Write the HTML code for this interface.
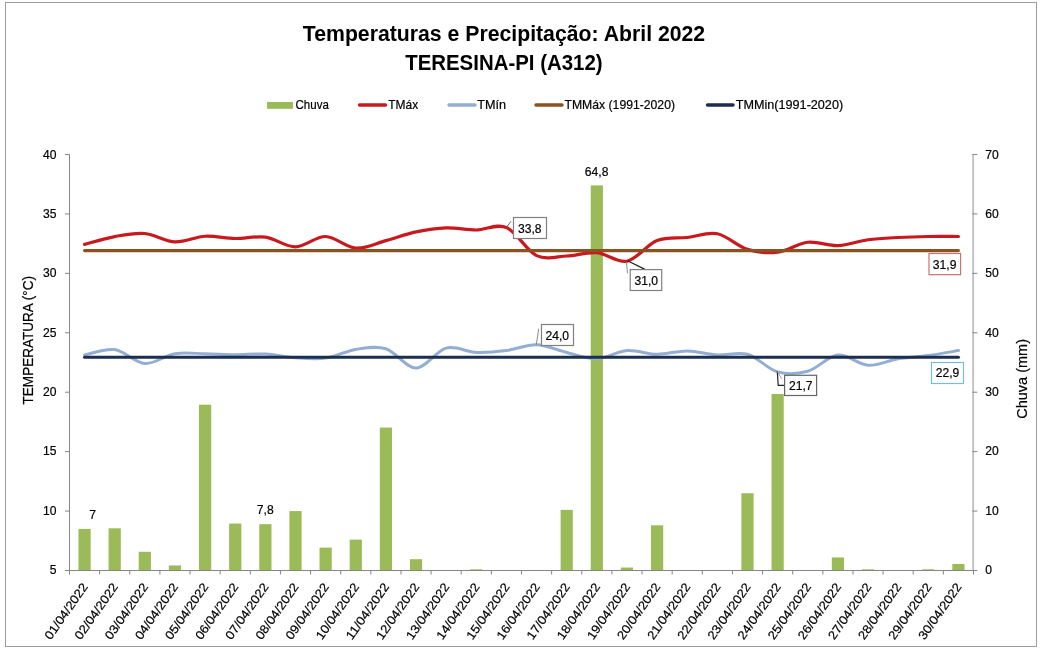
<!DOCTYPE html>
<html lang="pt-BR"><head><meta charset="utf-8"><title>Temperaturas e Precipitação: Abril 2022 - TERESINA-PI (A312)</title>
<style>html,body{margin:0;padding:0;background:#fff}body{width:1041px;height:650px;overflow:hidden}svg{display:block}svg text{font-family:"Liberation Sans",sans-serif}</style></head>
<body>
<svg width="1041" height="650" viewBox="0 0 1041 650" fill="#000">
<rect x="0" y="0" width="1041" height="650" fill="#fff"/>
<rect x="5.5" y="2.5" width="1031" height="644" fill="#fff" stroke="#9c9c9c" stroke-width="1"/>
<text x="302.83" y="41.30" font-size="22.45" font-weight="bold" textLength="402.34" lengthAdjust="spacingAndGlyphs">Temperaturas e Precipitação: Abril 2022</text>
<text x="405.17" y="70.20" font-size="22.45" font-weight="bold" textLength="197.45" lengthAdjust="spacingAndGlyphs">TERESINA-PI (A312)</text>
<rect x="267" y="102" width="26" height="6.8" fill="#9BBB59"/>
<text x="295.50" y="109.00" font-size="12.26" stroke="#000" stroke-width="0.2" textLength="33.33" lengthAdjust="spacingAndGlyphs">Chuva</text>
<line x1="359.5" y1="105" x2="385.5" y2="105" stroke="#C8191F" stroke-width="3.4" stroke-linecap="round"/>
<text x="388.30" y="109.00" font-size="12.26" stroke="#000" stroke-width="0.2" textLength="29.92" lengthAdjust="spacingAndGlyphs">TMáx</text>
<line x1="449" y1="105" x2="475" y2="105" stroke="#93AED2" stroke-width="3.4" stroke-linecap="round"/>
<text x="477.20" y="109.00" font-size="12.26" stroke="#000" stroke-width="0.2" textLength="28.75" lengthAdjust="spacingAndGlyphs">TMín</text>
<line x1="536" y1="105" x2="562" y2="105" stroke="#8A5220" stroke-width="3.4" stroke-linecap="round"/>
<text x="564.50" y="109.00" font-size="12.26" stroke="#000" stroke-width="0.2" textLength="110.50" lengthAdjust="spacingAndGlyphs">TMMáx (1991-2020)</text>
<line x1="707.5" y1="105" x2="733" y2="105" stroke="#1B2E50" stroke-width="3.4" stroke-linecap="round"/>
<text x="735.80" y="109.00" font-size="12.26" stroke="#000" stroke-width="0.2" textLength="107.32" lengthAdjust="spacingAndGlyphs">TMMin(1991-2020)</text>
<g fill="#9BBB59">
<rect x="78.47" y="528.90" width="12.2" height="41.60"/>
<rect x="108.60" y="528.31" width="12.2" height="42.19"/>
<rect x="138.73" y="551.78" width="12.2" height="18.72"/>
<rect x="168.87" y="565.45" width="12.2" height="5.05"/>
<rect x="199.00" y="404.69" width="12.2" height="165.81"/>
<rect x="229.13" y="523.55" width="12.2" height="46.95"/>
<rect x="259.27" y="524.15" width="12.2" height="46.35"/>
<rect x="289.40" y="511.07" width="12.2" height="59.43"/>
<rect x="319.53" y="547.62" width="12.2" height="22.88"/>
<rect x="349.67" y="539.60" width="12.2" height="30.90"/>
<rect x="379.80" y="427.57" width="12.2" height="142.93"/>
<rect x="409.93" y="559.21" width="12.2" height="11.29"/>
<rect x="470.20" y="569.31" width="12.2" height="1.19"/>
<rect x="560.60" y="509.88" width="12.2" height="60.62"/>
<rect x="590.73" y="185.40" width="12.2" height="385.10"/>
<rect x="620.87" y="567.53" width="12.2" height="2.97"/>
<rect x="651.00" y="525.33" width="12.2" height="45.17"/>
<rect x="741.40" y="493.24" width="12.2" height="77.26"/>
<rect x="771.53" y="394.00" width="12.2" height="176.50"/>
<rect x="831.80" y="557.43" width="12.2" height="13.07"/>
<rect x="861.93" y="569.31" width="12.2" height="1.19"/>
<rect x="922.20" y="569.31" width="12.2" height="1.19"/>
<rect x="952.33" y="563.96" width="12.2" height="6.54"/>
</g>
<g stroke="#868686" stroke-width="1" fill="none">
<line x1="69.5" y1="154.5" x2="69.5" y2="570.5"/>
<line x1="65.0" y1="154.50" x2="69.5" y2="154.50"/>
<line x1="65.0" y1="213.93" x2="69.5" y2="213.93"/>
<line x1="65.0" y1="273.36" x2="69.5" y2="273.36"/>
<line x1="65.0" y1="332.79" x2="69.5" y2="332.79"/>
<line x1="65.0" y1="392.21" x2="69.5" y2="392.21"/>
<line x1="65.0" y1="451.64" x2="69.5" y2="451.64"/>
<line x1="65.0" y1="511.07" x2="69.5" y2="511.07"/>
<line x1="65.0" y1="570.50" x2="69.5" y2="570.50"/>
<line x1="69.5" y1="570.5" x2="973.5" y2="570.5"/>
<line x1="69.50" y1="570.5" x2="69.50" y2="574.5"/>
<line x1="99.63" y1="570.5" x2="99.63" y2="574.5"/>
<line x1="129.77" y1="570.5" x2="129.77" y2="574.5"/>
<line x1="159.90" y1="570.5" x2="159.90" y2="574.5"/>
<line x1="190.03" y1="570.5" x2="190.03" y2="574.5"/>
<line x1="220.17" y1="570.5" x2="220.17" y2="574.5"/>
<line x1="250.30" y1="570.5" x2="250.30" y2="574.5"/>
<line x1="280.43" y1="570.5" x2="280.43" y2="574.5"/>
<line x1="310.57" y1="570.5" x2="310.57" y2="574.5"/>
<line x1="340.70" y1="570.5" x2="340.70" y2="574.5"/>
<line x1="370.83" y1="570.5" x2="370.83" y2="574.5"/>
<line x1="400.97" y1="570.5" x2="400.97" y2="574.5"/>
<line x1="431.10" y1="570.5" x2="431.10" y2="574.5"/>
<line x1="461.23" y1="570.5" x2="461.23" y2="574.5"/>
<line x1="491.37" y1="570.5" x2="491.37" y2="574.5"/>
<line x1="521.50" y1="570.5" x2="521.50" y2="574.5"/>
<line x1="551.63" y1="570.5" x2="551.63" y2="574.5"/>
<line x1="581.77" y1="570.5" x2="581.77" y2="574.5"/>
<line x1="611.90" y1="570.5" x2="611.90" y2="574.5"/>
<line x1="642.03" y1="570.5" x2="642.03" y2="574.5"/>
<line x1="672.17" y1="570.5" x2="672.17" y2="574.5"/>
<line x1="702.30" y1="570.5" x2="702.30" y2="574.5"/>
<line x1="732.43" y1="570.5" x2="732.43" y2="574.5"/>
<line x1="762.57" y1="570.5" x2="762.57" y2="574.5"/>
<line x1="792.70" y1="570.5" x2="792.70" y2="574.5"/>
<line x1="822.83" y1="570.5" x2="822.83" y2="574.5"/>
<line x1="852.97" y1="570.5" x2="852.97" y2="574.5"/>
<line x1="883.10" y1="570.5" x2="883.10" y2="574.5"/>
<line x1="913.23" y1="570.5" x2="913.23" y2="574.5"/>
<line x1="943.37" y1="570.5" x2="943.37" y2="574.5"/>
<line x1="973.50" y1="570.5" x2="973.50" y2="574.5"/>
</g>
<line x1="973.15" y1="154.2" x2="973.15" y2="571.0" stroke="#c2c2c2" stroke-width="1.9"/>
<g stroke="#868686" stroke-width="1" fill="none">
<line x1="972.3" y1="154.50" x2="977.4" y2="154.50"/>
<line x1="972.3" y1="213.93" x2="977.4" y2="213.93"/>
<line x1="972.3" y1="273.36" x2="977.4" y2="273.36"/>
<line x1="972.3" y1="332.79" x2="977.4" y2="332.79"/>
<line x1="972.3" y1="392.21" x2="977.4" y2="392.21"/>
<line x1="972.3" y1="451.64" x2="977.4" y2="451.64"/>
<line x1="972.3" y1="511.07" x2="977.4" y2="511.07"/>
<line x1="972.3" y1="570.50" x2="977.4" y2="570.50"/>
</g>
<text x="43.10" y="158.80" font-size="12.26" stroke="#000" stroke-width="0.2" textLength="13.50" lengthAdjust="spacingAndGlyphs">40</text>
<text x="985.30" y="158.80" font-size="12.26" stroke="#000" stroke-width="0.2" textLength="13.50" lengthAdjust="spacingAndGlyphs">70</text>
<text x="43.10" y="218.13" font-size="12.26" stroke="#000" stroke-width="0.2" textLength="13.50" lengthAdjust="spacingAndGlyphs">35</text>
<text x="985.30" y="218.13" font-size="12.26" stroke="#000" stroke-width="0.2" textLength="13.50" lengthAdjust="spacingAndGlyphs">60</text>
<text x="43.10" y="277.46" font-size="12.26" stroke="#000" stroke-width="0.2" textLength="13.50" lengthAdjust="spacingAndGlyphs">30</text>
<text x="985.30" y="277.46" font-size="12.26" stroke="#000" stroke-width="0.2" textLength="13.50" lengthAdjust="spacingAndGlyphs">50</text>
<text x="43.10" y="336.79" font-size="12.26" stroke="#000" stroke-width="0.2" textLength="13.50" lengthAdjust="spacingAndGlyphs">25</text>
<text x="985.30" y="336.79" font-size="12.26" stroke="#000" stroke-width="0.2" textLength="13.50" lengthAdjust="spacingAndGlyphs">40</text>
<text x="43.10" y="396.11" font-size="12.26" stroke="#000" stroke-width="0.2" textLength="13.50" lengthAdjust="spacingAndGlyphs">20</text>
<text x="985.30" y="396.11" font-size="12.26" stroke="#000" stroke-width="0.2" textLength="13.50" lengthAdjust="spacingAndGlyphs">30</text>
<text x="43.10" y="455.44" font-size="12.26" stroke="#000" stroke-width="0.2" textLength="13.50" lengthAdjust="spacingAndGlyphs">15</text>
<text x="985.30" y="455.44" font-size="12.26" stroke="#000" stroke-width="0.2" textLength="13.50" lengthAdjust="spacingAndGlyphs">20</text>
<text x="43.10" y="514.77" font-size="12.26" stroke="#000" stroke-width="0.2" textLength="13.50" lengthAdjust="spacingAndGlyphs">10</text>
<text x="985.30" y="514.77" font-size="12.26" stroke="#000" stroke-width="0.2" textLength="13.50" lengthAdjust="spacingAndGlyphs">10</text>
<text x="49.85" y="574.10" font-size="12.26" stroke="#000" stroke-width="0.2" textLength="6.75" lengthAdjust="spacingAndGlyphs">5</text>
<text x="985.30" y="574.10" font-size="12.26" stroke="#000" stroke-width="0.2" textLength="6.75" lengthAdjust="spacingAndGlyphs">0</text>
<text x="33.40" y="404.40" font-size="15.25" stroke="#000" stroke-width="0.2" textLength="128.39" lengthAdjust="spacingAndGlyphs" transform="rotate(-90 33.40 404.40)">TEMPERATURA (°C)</text>
<text x="1027.00" y="418.80" font-size="15.07" stroke="#000" stroke-width="0.2" textLength="79.80" lengthAdjust="spacingAndGlyphs" transform="rotate(-90 1027.00 418.80)">Chuva (mm)</text>
<text x="22.79" y="586.80" font-size="12.26" stroke="#000" stroke-width="0.2" textLength="65.58" lengthAdjust="spacingAndGlyphs" transform="rotate(-55 88.37 586.80)">01/04/2022</text>
<text x="52.92" y="586.80" font-size="12.26" stroke="#000" stroke-width="0.2" textLength="65.58" lengthAdjust="spacingAndGlyphs" transform="rotate(-55 118.50 586.80)">02/04/2022</text>
<text x="83.05" y="586.80" font-size="12.26" stroke="#000" stroke-width="0.2" textLength="65.58" lengthAdjust="spacingAndGlyphs" transform="rotate(-55 148.63 586.80)">03/04/2022</text>
<text x="113.19" y="586.80" font-size="12.26" stroke="#000" stroke-width="0.2" textLength="65.58" lengthAdjust="spacingAndGlyphs" transform="rotate(-55 178.77 586.80)">04/04/2022</text>
<text x="143.32" y="586.80" font-size="12.26" stroke="#000" stroke-width="0.2" textLength="65.58" lengthAdjust="spacingAndGlyphs" transform="rotate(-55 208.90 586.80)">05/04/2022</text>
<text x="173.45" y="586.80" font-size="12.26" stroke="#000" stroke-width="0.2" textLength="65.58" lengthAdjust="spacingAndGlyphs" transform="rotate(-55 239.03 586.80)">06/04/2022</text>
<text x="203.59" y="586.80" font-size="12.26" stroke="#000" stroke-width="0.2" textLength="65.58" lengthAdjust="spacingAndGlyphs" transform="rotate(-55 269.17 586.80)">07/04/2022</text>
<text x="233.72" y="586.80" font-size="12.26" stroke="#000" stroke-width="0.2" textLength="65.58" lengthAdjust="spacingAndGlyphs" transform="rotate(-55 299.30 586.80)">08/04/2022</text>
<text x="263.85" y="586.80" font-size="12.26" stroke="#000" stroke-width="0.2" textLength="65.58" lengthAdjust="spacingAndGlyphs" transform="rotate(-55 329.43 586.80)">09/04/2022</text>
<text x="293.99" y="586.80" font-size="12.26" stroke="#000" stroke-width="0.2" textLength="65.58" lengthAdjust="spacingAndGlyphs" transform="rotate(-55 359.57 586.80)">10/04/2022</text>
<text x="324.12" y="586.80" font-size="12.26" stroke="#000" stroke-width="0.2" textLength="65.58" lengthAdjust="spacingAndGlyphs" transform="rotate(-55 389.70 586.80)">11/04/2022</text>
<text x="354.25" y="586.80" font-size="12.26" stroke="#000" stroke-width="0.2" textLength="65.58" lengthAdjust="spacingAndGlyphs" transform="rotate(-55 419.83 586.80)">12/04/2022</text>
<text x="384.39" y="586.80" font-size="12.26" stroke="#000" stroke-width="0.2" textLength="65.58" lengthAdjust="spacingAndGlyphs" transform="rotate(-55 449.97 586.80)">13/04/2022</text>
<text x="414.52" y="586.80" font-size="12.26" stroke="#000" stroke-width="0.2" textLength="65.58" lengthAdjust="spacingAndGlyphs" transform="rotate(-55 480.10 586.80)">14/04/2022</text>
<text x="444.65" y="586.80" font-size="12.26" stroke="#000" stroke-width="0.2" textLength="65.58" lengthAdjust="spacingAndGlyphs" transform="rotate(-55 510.23 586.80)">15/04/2022</text>
<text x="474.79" y="586.80" font-size="12.26" stroke="#000" stroke-width="0.2" textLength="65.58" lengthAdjust="spacingAndGlyphs" transform="rotate(-55 540.37 586.80)">16/04/2022</text>
<text x="504.92" y="586.80" font-size="12.26" stroke="#000" stroke-width="0.2" textLength="65.58" lengthAdjust="spacingAndGlyphs" transform="rotate(-55 570.50 586.80)">17/04/2022</text>
<text x="535.05" y="586.80" font-size="12.26" stroke="#000" stroke-width="0.2" textLength="65.58" lengthAdjust="spacingAndGlyphs" transform="rotate(-55 600.63 586.80)">18/04/2022</text>
<text x="565.19" y="586.80" font-size="12.26" stroke="#000" stroke-width="0.2" textLength="65.58" lengthAdjust="spacingAndGlyphs" transform="rotate(-55 630.77 586.80)">19/04/2022</text>
<text x="595.32" y="586.80" font-size="12.26" stroke="#000" stroke-width="0.2" textLength="65.58" lengthAdjust="spacingAndGlyphs" transform="rotate(-55 660.90 586.80)">20/04/2022</text>
<text x="625.45" y="586.80" font-size="12.26" stroke="#000" stroke-width="0.2" textLength="65.58" lengthAdjust="spacingAndGlyphs" transform="rotate(-55 691.03 586.80)">21/04/2022</text>
<text x="655.59" y="586.80" font-size="12.26" stroke="#000" stroke-width="0.2" textLength="65.58" lengthAdjust="spacingAndGlyphs" transform="rotate(-55 721.17 586.80)">22/04/2022</text>
<text x="685.72" y="586.80" font-size="12.26" stroke="#000" stroke-width="0.2" textLength="65.58" lengthAdjust="spacingAndGlyphs" transform="rotate(-55 751.30 586.80)">23/04/2022</text>
<text x="715.85" y="586.80" font-size="12.26" stroke="#000" stroke-width="0.2" textLength="65.58" lengthAdjust="spacingAndGlyphs" transform="rotate(-55 781.43 586.80)">24/04/2022</text>
<text x="745.99" y="586.80" font-size="12.26" stroke="#000" stroke-width="0.2" textLength="65.58" lengthAdjust="spacingAndGlyphs" transform="rotate(-55 811.57 586.80)">25/04/2022</text>
<text x="776.12" y="586.80" font-size="12.26" stroke="#000" stroke-width="0.2" textLength="65.58" lengthAdjust="spacingAndGlyphs" transform="rotate(-55 841.70 586.80)">26/04/2022</text>
<text x="806.25" y="586.80" font-size="12.26" stroke="#000" stroke-width="0.2" textLength="65.58" lengthAdjust="spacingAndGlyphs" transform="rotate(-55 871.83 586.80)">27/04/2022</text>
<text x="836.39" y="586.80" font-size="12.26" stroke="#000" stroke-width="0.2" textLength="65.58" lengthAdjust="spacingAndGlyphs" transform="rotate(-55 901.97 586.80)">28/04/2022</text>
<text x="866.52" y="586.80" font-size="12.26" stroke="#000" stroke-width="0.2" textLength="65.58" lengthAdjust="spacingAndGlyphs" transform="rotate(-55 932.10 586.80)">29/04/2022</text>
<text x="896.65" y="586.80" font-size="12.26" stroke="#000" stroke-width="0.2" textLength="65.58" lengthAdjust="spacingAndGlyphs" transform="rotate(-55 962.23 586.80)">30/04/2022</text>
<path d="M84.57,244.40 C89.59,243.10 104.66,238.42 114.70,236.60 C124.74,234.78 134.79,232.62 144.83,233.50 C154.88,234.38 164.92,241.44 174.97,241.90 C185.01,242.36 195.06,236.82 205.10,236.25 C215.14,235.68 225.19,238.36 235.23,238.50 C245.28,238.64 255.32,235.70 265.37,237.10 C275.41,238.50 285.46,247.00 295.50,246.90 C305.54,246.80 315.59,236.30 325.63,236.50 C335.68,236.70 345.72,247.42 355.77,248.10 C365.81,248.78 375.86,243.30 385.90,240.60 C395.94,237.90 405.99,234.02 416.03,231.90 C426.08,229.78 436.12,228.22 446.17,227.90 C456.21,227.58 466.26,230.07 476.30,230.00 C486.34,229.93 496.39,223.23 506.43,227.50 C516.48,231.77 526.52,250.85 536.57,255.60 C546.61,260.35 556.66,256.48 566.70,256.00 C576.74,255.52 586.79,251.83 596.83,252.70 C606.88,253.57 616.92,263.22 626.97,261.20 C637.01,259.18 647.06,244.55 657.10,240.60 C667.14,236.65 677.19,238.64 687.23,237.50 C697.28,236.36 707.32,231.77 717.37,233.75 C727.41,235.73 737.46,246.32 747.50,249.40 C757.54,252.48 767.59,253.44 777.63,252.25 C787.68,251.06 797.72,243.36 807.77,242.25 C817.81,241.14 827.86,246.02 837.90,245.60 C847.94,245.18 857.99,241.10 868.03,239.75 C878.08,238.40 888.12,238.04 898.17,237.50 C908.21,236.96 918.26,236.67 928.30,236.50 C938.34,236.33 953.41,236.50 958.43,236.50" fill="none" stroke="#C8191F" stroke-width="3.2" stroke-linecap="round" stroke-linejoin="round"/>
<path d="M84.57,355.00 C89.59,354.10 104.66,348.18 114.70,349.60 C124.74,351.02 134.79,362.81 144.83,363.50 C154.88,364.19 164.92,355.38 174.97,353.75 C185.01,352.12 195.06,353.58 205.10,353.75 C215.14,353.92 225.19,354.69 235.23,354.75 C245.28,354.81 255.32,353.60 265.37,354.10 C275.41,354.60 285.46,357.08 295.50,357.75 C305.54,358.42 315.59,359.49 325.63,358.10 C335.68,356.71 345.72,350.96 355.77,349.40 C365.81,347.84 375.86,345.63 385.90,348.75 C395.94,351.87 405.99,368.21 416.03,368.10 C426.08,367.99 436.12,350.70 446.17,348.10 C456.21,345.50 466.26,352.08 476.30,352.50 C486.34,352.92 496.39,351.89 506.43,350.60 C516.48,349.31 526.52,344.43 536.57,344.75 C546.61,345.07 556.66,350.17 566.70,352.50 C576.74,354.83 586.79,359.07 596.83,358.75 C606.88,358.43 616.92,351.34 626.97,350.60 C637.01,349.86 647.06,354.25 657.10,354.30 C667.14,354.35 677.19,350.80 687.23,350.90 C697.28,351.00 707.32,354.33 717.37,354.90 C727.41,355.47 737.46,351.47 747.50,354.30 C757.54,357.13 767.59,369.07 777.63,371.90 C787.68,374.73 797.72,374.12 807.77,371.30 C817.81,368.48 827.86,356.01 837.90,355.00 C847.94,353.99 857.99,364.62 868.03,365.25 C878.08,365.88 888.12,360.36 898.17,358.75 C908.21,357.14 918.26,356.96 928.30,355.60 C938.34,354.24 953.41,351.43 958.43,350.60" fill="none" stroke="#93AED2" stroke-width="3.0" stroke-linecap="round" stroke-linejoin="round"/>
<line x1="84.57" y1="250.6" x2="958.43" y2="250.6" stroke="#8A5220" stroke-width="3.1" stroke-linecap="round"/>
<line x1="84.57" y1="357.3" x2="958.43" y2="357.3" stroke="#1B2E50" stroke-width="3.1" stroke-linecap="round"/>
<g fill="none" stroke-width="1">
<line x1="511" y1="221.2" x2="507.3" y2="226.2" stroke="#6e6e6e"/>
<line x1="627.6" y1="260.7" x2="645.4" y2="269.6" stroke="#222" stroke-width="1.25"/>
<line x1="626.5" y1="262.4" x2="627.5" y2="273.3" stroke="#8c8c8c"/>
<line x1="538.75" y1="328.75" x2="536.25" y2="344.75" stroke="#8c8c8c"/>
<polyline points="777.3,371.5 778.2,385.4 784.6,385.4" stroke="#222" stroke-width="1.2"/>
<line x1="777.5" y1="372" x2="781.6" y2="378.6" stroke="#999"/>
</g>
<rect x="513.5" y="217.5" width="33.0" height="21.0" fill="#fff" stroke="#808080" stroke-width="1.2"/>
<text x="518.00" y="232.50" font-size="12.26" stroke="#000" stroke-width="0.2" textLength="23.58" lengthAdjust="spacingAndGlyphs">33,8</text>
<rect x="630.2" y="269.6" width="31.5" height="20.899999999999977" fill="#fff" stroke="#808080" stroke-width="1.2"/>
<text x="634.50" y="284.80" font-size="12.26" stroke="#000" stroke-width="0.2" textLength="23.58" lengthAdjust="spacingAndGlyphs">31,0</text>
<rect x="541.5" y="324.5" width="32.0" height="21.0" fill="#fff" stroke="#808080" stroke-width="1.2"/>
<text x="545.50" y="339.60" font-size="12.26" stroke="#000" stroke-width="0.2" textLength="23.58" lengthAdjust="spacingAndGlyphs">24,0</text>
<rect x="784.6" y="375.3" width="32.0" height="20.19999999999999" fill="#fff" stroke="#666" stroke-width="1.2"/>
<text x="789.00" y="390.00" font-size="12.26" stroke="#000" stroke-width="0.2" textLength="23.58" lengthAdjust="spacingAndGlyphs">21,7</text>
<rect x="929.0" y="253.5" width="31.600000000000023" height="21.19999999999999" fill="#fff" stroke="#C87472" stroke-width="1.2"/>
<text x="932.80" y="268.80" font-size="12.26" stroke="#000" stroke-width="0.2" textLength="23.58" lengthAdjust="spacingAndGlyphs">31,9</text>
<rect x="931.5" y="362.5" width="32.0" height="21.0" fill="#fff" stroke="#74BFD4" stroke-width="1.2"/>
<text x="935.70" y="376.90" font-size="12.26" stroke="#000" stroke-width="0.2" textLength="23.58" lengthAdjust="spacingAndGlyphs">22,9</text>
<text x="89.30" y="518.80" font-size="12.26" stroke="#000" stroke-width="0.2" textLength="6.75" lengthAdjust="spacingAndGlyphs">7</text>
<text x="256.79" y="514.30" font-size="12.26" stroke="#000" stroke-width="0.2" textLength="16.83" lengthAdjust="spacingAndGlyphs">7,8</text>
<text x="584.81" y="175.80" font-size="12.26" stroke="#000" stroke-width="0.2" textLength="23.58" lengthAdjust="spacingAndGlyphs">64,8</text>
</svg>
</body></html>
